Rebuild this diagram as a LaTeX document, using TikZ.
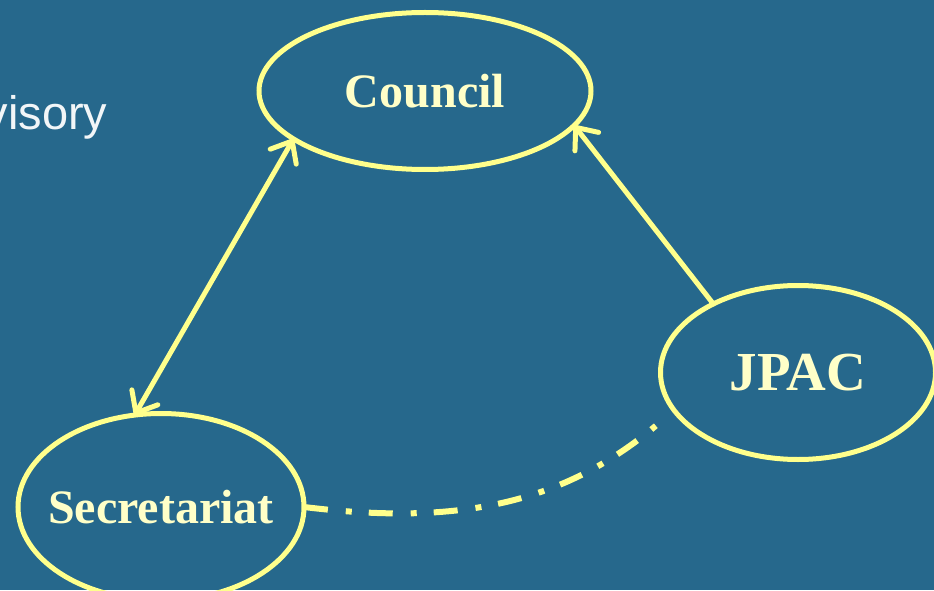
\documentclass[tikz,border=0pt]{standalone}
\usepackage{fontspec}
\setmainfont{Liberation Serif}
\newfontfamily\labelsans{Liberation Sans}
\usetikzlibrary{arrows.meta,shapes.geometric}

\definecolor{slideblue}{HTML}{26688C}
\definecolor{ringyellow}{HTML}{FFFF8C}
\definecolor{textcream}{HTML}{FFFFC8}

% text of fixed-size ellipses takes no width
\newcommand{\bodytext}[1]{\makebox[0pt]{#1}}

\tikzset{
    body/.style={shape=ellipse, draw=ringyellow, line width=5pt, inner sep=0pt, outer sep=0pt,
        text=textcream, font=\bfseries\fontsize{48}{58}\selectfont},
    link/.style={draw=ringyellow, line width=5pt, line cap=round, line join=round},
    barb/.style={-{Straight Barb[length=18pt, width=30pt, line cap=round, line join=round]}},
    twobarb/.style={{Straight Barb[length=18pt, width=30pt, line cap=round, line join=round]}-{Straight Barb[length=18pt, width=30pt, line cap=round, line join=round]}}
}

\begin{document}
\begin{tikzpicture}[x=1pt, y=1pt]
        \useasboundingbox (0, 0) rectangle (934, 590);
        \clip (0, 0) rectangle (934, 590);
        \fill[slideblue] (0, 0) rectangle (934, 590);

        \node[anchor=base east, text=white!94!slideblue, font=\labelsans\fontsize{47}{56}\selectfont] (adv) at (111, 460) {visory};

        \node[body, minimum width=332pt, minimum height=157pt] (C) at (425, 499) {\bodytext{Council}};
        \node[body, minimum width=275pt, minimum height=174pt, font=\bfseries\fontsize{55}{66}\selectfont] (J) at (798, 217.5) {\bodytext{JPAC}};
        \node[body, minimum width=286pt, minimum height=187pt] (S) at (161, 83) {\bodytext{Secretariat}};

        \draw[link, twobarb] (C.200) -- (S.106);
        \draw[link, barb] (J.141) -- (C.-13);

        \draw[draw=ringyellow, line width=6pt, dash pattern=on 24pt off 18pt on 6pt off 17pt, shorten >=24pt]
            (S.east) to[out=-7, in=220] (J.197);
\end{tikzpicture}
\end{document}
